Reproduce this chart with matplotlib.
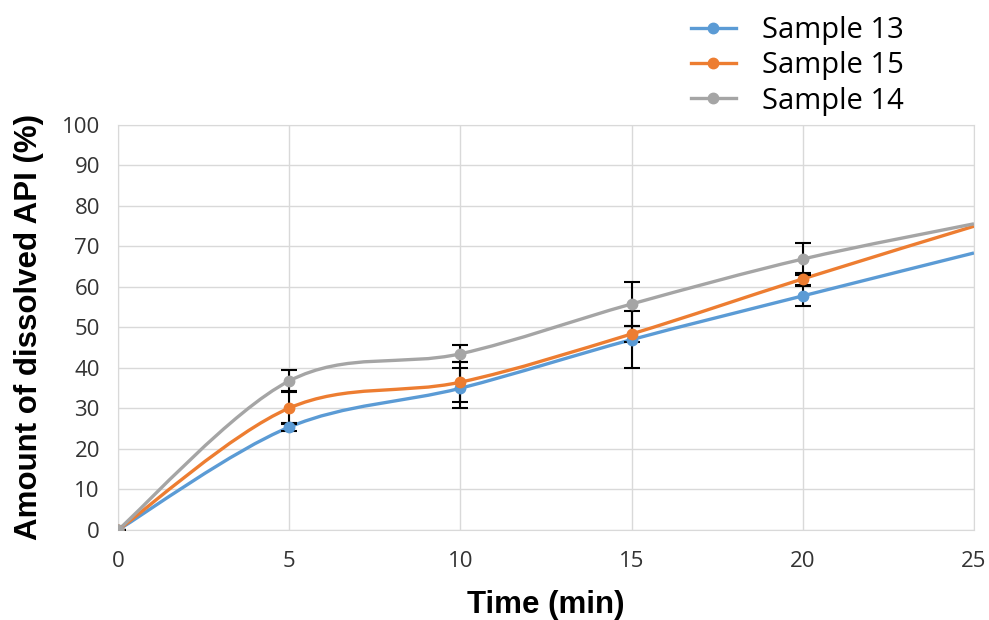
import numpy as np
import matplotlib
matplotlib.use("Agg")
import matplotlib.pyplot as plt
from matplotlib.path import Path
from matplotlib.patches import PathPatch
from matplotlib.lines import Line2D

# dissolution data (time in min, % dissolved API)
time = [0, 5, 10, 15, 20, 25]
s13 = [0, 25.4, 35.0, 47.0, 57.8, 68.4]
s15 = [0, 30.1, 36.5, 48.4, 62.0, 75.0]
s14 = [0, 36.8, 43.5, 55.8, 66.9, 75.6]
err13 = [0, 1.0, 5.0, 7.0, 2.4, 0]
err15 = [0, 4.0, 5.0, 2.0, 1.5, 0]
err14 = [0, 2.6, 2.1, 5.5, 4.0, 0]

series = [("Sample 13", s13, err13, "#5B9BD5"),
          ("Sample 15", s15, err15, "#ED7D31"),
          ("Sample 14", s14, err14, "#A5A5A5")]


def smooth_path(x, y):
    # Excel-style smoothed line: cubic bezier segments through the points
    p = np.column_stack([x, y]).astype(float)
    n = len(p)
    verts = [p[0]]
    codes = [Path.MOVETO]
    for i in range(n - 1):
        p0 = p[i - 1] if i > 0 else p[i]
        p3 = p[i + 2] if i + 2 < n else p[i + 1]
        c1 = p[i] + (p[i + 1] - p0) / 6.0
        c2 = p[i + 1] - (p3 - p[i]) / 6.0
        verts += [c1, c2, p[i + 1]]
        codes += [Path.CURVE4] * 3
    return Path(verts, codes)


fig = plt.figure(figsize=(9.89, 6.2), dpi=100)
ax = fig.add_axes([0.1193, 0.1452, 0.8655, 0.6532])

handles = []
for name, vals, err, col in series:
    ax.add_patch(PathPatch(smooth_path(time, vals), facecolor="none",
                           edgecolor=col, lw=2.4, zorder=3))
    ax.errorbar(time[:5], vals[:5], yerr=err[:5], fmt="none", ecolor="black",
                elinewidth=1.5, capsize=6, capthick=1.5, zorder=4)
    ax.plot(time[:5], vals[:5], "o", color=col, ms=7.5, zorder=5)
    handles.append(Line2D([], [], color=col, lw=2.4, marker="o", ms=7.5))

ax.set_xlim(0, 25)
ax.set_ylim(0, 100)
ax.set_xticks(range(0, 26, 5))
ax.set_yticks(range(0, 101, 10))
ax.grid(True, color="#D9D9D9", lw=1)
ax.set_axisbelow(True)
for sp in ax.spines.values():
    sp.set_color("#D9D9D9")
ax.tick_params(length=0, labelsize=16, labelcolor="#333333")
ax.tick_params(axis="x", pad=15)
ax.tick_params(axis="y", pad=13)
for lab in ax.get_xticklabels() + ax.get_yticklabels():
    lab.set_family("Open Sans")

ax.set_xlabel("Time (min)", fontsize=22.5, fontweight="bold",
              family="Liberation Sans")
ax.set_ylabel("Amount of dissolved API (%)", fontsize=22.5, fontweight="bold",
              family="Liberation Sans")
ax.xaxis.set_label_coords(0.5, -0.148)
ax.yaxis.set_label_coords(-0.087, 0.5)

fig.legend(handles, [s[0] for s in series], loc="upper left",
           bbox_to_anchor=(0.6835, 0.998), frameon=False, borderpad=0,
           handlelength=1.55, handletextpad=0.9, labelspacing=0.22,
           prop={"family": "Open Sans", "size": 21})

fig.savefig("out.png", dpi=100)
